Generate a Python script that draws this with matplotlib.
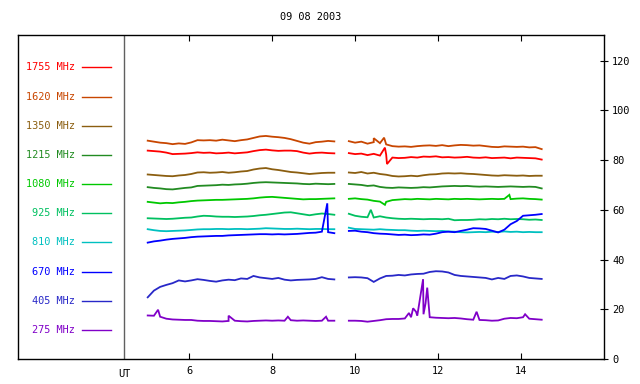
import numpy as np
import matplotlib
matplotlib.use('Agg')
import matplotlib.pyplot as plt

# sample times (UT hours) of the two observing runs
t_a = np.round(5.0 + 0.15 * np.arange(31), 2)
t_b = np.round(9.85 + 0.15 * np.arange(32), 2)

labels = ['1755 MHz', '1620 MHz', '1350 MHz', '1215 MHz', '1080 MHz',
          '925 MHz', '810 MHz', '670 MHz', '405 MHz', '275 MHz']
colors = ['#ff0000', '#c84600', '#8b5e10', '#228b22', '#00c800',
          '#00c060', '#00c0c0', '#0000ff', '#2828c8', '#8000c8']

f1755_a = [83.8, 83.6, 83.4, 83.0, 82.4, 82.5, 82.6, 82.8, 83.1, 82.9, 83.0, 82.7, 82.8, 83.0, 82.7, 82.9,
           83.1, 83.6, 84.0, 84.2, 83.9, 83.7, 83.8, 83.8, 83.6, 83.0, 82.6, 82.9, 83.0, 82.8, 82.7]
f1755_b = [82.8, 82.4, 82.6, 82.0, 82.5, 81.8, 82.2, 81.0, 80.8, 80.9, 81.2, 81.0, 81.4, 81.3, 81.5, 81.1,
           81.2, 81.0, 81.1, 81.3, 81.0, 80.9, 81.1, 80.8, 80.9, 81.0, 80.7, 81.0, 80.9, 80.8, 80.7, 80.2]
f1620_a = [87.8, 87.4, 87.0, 86.8, 86.4, 86.7, 86.5, 87.1, 88.0, 87.9, 88.0, 87.8, 88.2, 87.9, 87.6, 88.0,
           88.3, 88.9, 89.5, 89.7, 89.4, 89.2, 88.9, 88.4, 87.7, 87.0, 86.6, 87.2, 87.4, 87.7, 87.5]
f1620_b = [87.6, 87.0, 87.4, 86.6, 87.2, 86.8, 86.3, 85.6, 85.4, 85.5, 85.3, 85.6, 85.8, 85.9, 85.7, 86.0,
           85.6, 85.9, 86.1, 86.0, 85.8, 85.9, 85.6, 85.3, 85.2, 85.5, 85.4, 85.3, 85.4, 85.1, 85.2, 84.4]
f1350_a = [74.2, 74.0, 73.8, 73.6, 73.5, 73.8, 74.0, 74.4, 75.0, 75.1, 74.9, 75.0, 75.2, 74.9, 75.1, 75.4,
           75.6, 76.2, 76.6, 76.8, 76.3, 76.0, 75.6, 75.2, 75.0, 74.7, 74.4, 74.6, 74.8, 74.9, 74.9]
f1350_b = [75.0, 74.8, 75.2, 74.6, 74.9, 74.4, 74.1, 73.6, 73.4, 73.5, 73.7, 73.5, 73.9, 74.2, 74.3, 74.6,
           74.7, 74.6, 74.7, 74.5, 74.4, 74.2, 74.0, 73.8, 73.7, 73.9, 73.8, 73.7, 73.8, 73.6, 73.7, 73.7]
f1215_a = [69.1, 68.8, 68.6, 68.3, 68.2, 68.5, 68.8, 69.0, 69.6, 69.7, 69.8, 69.9, 70.1, 70.0, 70.2, 70.3,
           70.5, 70.8, 71.0, 71.1, 71.0, 70.9, 70.8, 70.7, 70.6, 70.4, 70.3, 70.5, 70.4, 70.3, 70.4]
f1215_b = [70.4, 70.2, 70.0, 69.6, 69.8, 69.2, 68.9, 68.8, 69.0, 68.9, 68.8, 68.9, 69.1, 69.0, 69.2, 69.4,
           69.5, 69.6, 69.5, 69.6, 69.4, 69.3, 69.4, 69.3, 69.2, 69.3, 69.4, 69.3, 69.2, 69.3, 69.2, 68.6]
f1080_a = [63.2, 62.9, 62.6, 62.8, 62.7, 63.0, 63.2, 63.5, 63.7, 63.8, 63.9, 64.0, 64.0, 64.1, 64.2, 64.3,
           64.4, 64.6, 64.9, 65.1, 65.2, 65.0, 64.8, 64.6, 64.4, 64.2, 64.3, 64.3, 64.4, 64.5, 64.6]
f1080_b = [64.4, 64.6, 64.3, 64.1, 63.6, 63.3, 63.2, 63.9, 64.1, 64.3, 64.2, 64.4, 64.3, 64.2, 64.4, 64.3,
           64.2, 64.4, 64.3, 64.4, 64.3, 64.2, 64.3, 64.4, 64.3, 64.4, 64.3, 64.5, 64.6, 64.4, 64.3, 64.1]
f925_a = [56.6, 56.5, 56.4, 56.3, 56.4, 56.6, 56.8, 56.9, 57.3, 57.6, 57.5, 57.3, 57.2, 57.2, 57.1, 57.2,
          57.3, 57.5, 57.8, 58.0, 58.3, 58.6, 58.9, 59.0, 58.6, 58.2, 57.8, 58.2, 58.5, 58.3, 58.0]
f925_b = [58.4, 57.6, 57.2, 57.0, 56.9, 57.4, 56.9, 56.6, 56.4, 56.3, 56.4, 56.3, 56.2, 56.3, 56.3, 56.2,
          56.4, 55.8, 55.9, 55.9, 56.0, 56.2, 56.1, 56.3, 56.2, 56.4, 56.2, 56.3, 56.2, 56.0, 56.1, 55.9]
f810_a = [52.2, 51.8, 51.5, 51.4, 51.5, 51.6, 51.7, 51.9, 52.1, 52.2, 52.2, 52.3, 52.3, 52.2, 52.3, 52.3,
          52.2, 52.3, 52.4, 52.6, 52.5, 52.4, 52.3, 52.3, 52.4, 52.3, 52.2, 52.3, 52.3, 52.2, 52.2]
f810_b = [52.8, 52.3, 52.2, 52.1, 52.0, 52.2, 52.0, 51.9, 51.8, 51.8, 51.6, 51.5, 51.6, 51.5, 51.4, 51.5,
          51.3, 51.2, 51.0, 50.9, 51.0, 51.1, 51.0, 51.2, 51.1, 51.3, 51.1, 51.2, 51.0, 51.1, 51.0, 51.0]
f670_a = [46.8, 47.3, 47.6, 48.0, 48.3, 48.5, 48.7, 49.0, 49.2, 49.3, 49.4, 49.5, 49.5, 49.7, 49.8, 49.9,
          50.0, 50.1, 50.2, 50.2, 50.1, 50.2, 50.1, 50.2, 50.3, 50.5, 50.7, 50.8, 51.2, 51.0, 50.6]
f670_b = [51.5, 51.6, 51.2, 51.0, 50.6, 50.4, 50.3, 50.1, 49.9, 50.0, 49.8, 49.9, 50.1, 50.0, 50.4, 51.0,
          51.2, 51.0, 51.5, 52.0, 52.6, 52.5, 52.3, 51.6, 50.9, 52.0, 54.2, 55.5, 57.6, 57.8, 58.0, 58.3]
f405_a = [24.8, 27.5, 29.0, 29.8, 30.5, 31.6, 31.2, 31.6, 32.1, 31.8, 31.4, 31.1, 31.6, 31.9, 31.7, 32.4,
          32.2, 33.4, 32.8, 32.5, 32.2, 32.6, 31.9, 31.6, 31.8, 31.9, 32.0, 32.2, 32.9, 32.2, 32.0]
f405_b = [32.8, 32.9, 32.8, 32.5, 31.0, 32.4, 33.4, 33.5, 33.8, 33.6, 34.0, 34.2, 34.3, 35.0, 35.3, 35.2,
          34.8, 33.8, 33.4, 33.2, 33.0, 32.8, 32.6, 32.0, 32.6, 32.2, 33.4, 33.6, 33.2, 32.6, 32.4, 32.2]
f275_a = [17.5, 17.4, 17.0, 16.2, 15.9, 15.8, 15.7, 15.7, 15.4, 15.3, 15.3, 15.2, 15.1, 15.3, 15.4, 15.2,
          15.1, 15.3, 15.4, 15.5, 15.4, 15.5, 15.4, 15.6, 15.4, 15.5, 15.4, 15.3, 15.4, 15.4, 15.4]
f275_b = [15.4, 15.4, 15.3, 15.0, 15.3, 15.6, 16.0, 16.1, 16.1, 16.3, 16.8, 17.4, 18.0, 16.8, 16.6, 16.5,
          16.4, 16.5, 16.3, 16.0, 15.8, 15.7, 15.6, 15.4, 15.5, 16.2, 16.5, 16.4, 16.8, 16.2, 16.0, 15.8]

# short bursts / spikes (time, value)
spk1755 = [(10.77, 78.4), (10.72, 85.0)]
spk1620 = [(10.70, 89.0), (10.45, 88.8)]
spk1080 = [(13.72, 66.0), (10.72, 62.0)]
spk925 = [(10.38, 60.0)]
spk670 = [(9.33, 62.6)]
spk275 = [(5.25, 19.8), (6.95, 17.4), (8.38, 17.0), (9.30, 17.0), (11.30, 18.5), (11.40, 20.4),
          (11.47, 19.0), (11.64, 32.1), (11.70, 22.4), (11.74, 28.7), (12.93, 19.0), (14.10, 18.0)]

series = [(f1755_a, f1755_b, spk1755), (f1620_a, f1620_b, spk1620), (f1350_a, f1350_b, []),
          (f1215_a, f1215_b, []), (f1080_a, f1080_b, spk1080), (f925_a, f925_b, spk925),
          (f810_a, f810_b, []), (f670_a, f670_b, spk670), (f405_a, f405_b, []), (f275_a, f275_b, spk275)]


def merge(t, v, spikes):
	lo, hi = t[0], t[-1]
	t = list(t)
	v = list(v)
	for st, sv in spikes:
		if lo <= st <= hi:
			t.append(st)
			v.append(sv)
	order = np.argsort(t, kind='stable')
	return np.array(t)[order], np.array(v)[order]


plt.rcParams['font.family'] = 'DejaVu Sans Mono'
fig = plt.figure(figsize=(6.4, 3.84), dpi=100)
ax = fig.add_axes([0.0286, 0.0651, 0.915, 0.8438])
ax.set_xlim(1.88, 16.0)
ax.set_ylim(0, 130.3)

for (va, vb, spk), col in zip(series, colors):
	for tt, vv in ((t_a, va), (t_b, vb)):
		x, y = merge(tt, vv, spk)
		ax.plot(x, y, color=col, lw=1.3, solid_joinstyle='miter')

# legend column
for i, (lab, col) in enumerate(zip(labels, colors)):
	yf = 0.9 - i * 0.09
	ax.text(0.0968, yf, lab, color=col, fontsize=7.4, ha='right', va='center', transform=ax.transAxes)
	ax.plot([0.109, 0.158], [yf, yf], color=col, lw=1.0, transform=ax.transAxes)

ax.axvline(4.43, color='#606060', lw=1.0)

ax.set_xticks([6, 8, 10, 12, 14])
ax.set_yticks([0, 20, 40, 60, 80, 100, 120])
ax.yaxis.tick_right()
ax.tick_params(axis='x', direction='in', length=4, top=True, labelsize=7.4, pad=5)
ax.tick_params(axis='y', direction='inout', length=6, labelsize=7.4, pad=3)
ax.text(4.43, -0.032, 'UT', transform=ax.get_xaxis_transform(), fontsize=7.4, ha='center', va='top')
for s in ax.spines.values():
	s.set_linewidth(1.0)

fig.text(0.485, 0.955, '09 08 2003', fontsize=7.4, ha='center', va='center')

fig.savefig('out.png', dpi=100)
